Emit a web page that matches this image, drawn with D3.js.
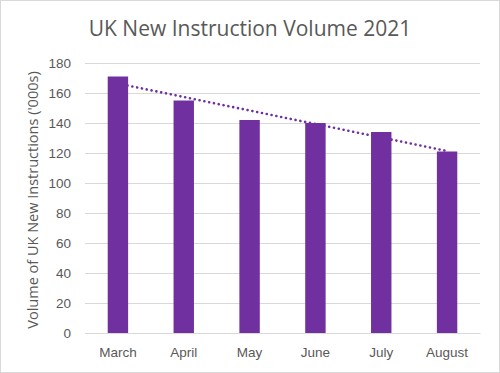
<!DOCTYPE html>
<html>
<head>
<meta charset="utf-8">
<script src="https://cdn.jsdelivr.net/npm/d3@7"></script>
<style>
  body { margin: 0; background: #fff; }
  svg { display: block; font-family: "Open Sans", "Liberation Sans", sans-serif; }
</style>
</head>
<body>
<div id="chart"></div>
<script>
const months = ["March", "April", "May", "June", "July", "August"];
const volumes = [171, 155, 142, 140, 134, 121];
const yTicks = [0, 20, 40, 60, 80, 100, 120, 140, 160, 180];

const W = 500, H = 373;
const margin = { top: 63, right: 20, bottom: 40, left: 85 };
const purple = "#7030A0", textCol = "#595959", gridCol = "#d9d9d9";

const svg = d3.select("#chart").append("svg")
    .attr("width", W)
    .attr("height", H);

svg.append("rect")
    .attr("x", 0.5).attr("y", 0.5)
    .attr("width", W - 1).attr("height", H - 1)
    .attr("fill", "#fff")
    .attr("stroke", gridCol);

const x = d3.scaleBand()
    .domain(months)
    .range([margin.left, W - margin.right]);

const y = d3.scaleLinear()
    .domain([0, 180])
    .range([H - margin.bottom, margin.top]);

// gridlines + tick labels
const yAxis = svg.append("g")
    .attr("transform", `translate(${margin.left},0)`)
    .call(d3.axisLeft(y).tickValues(yTicks).tickSize(-(W - margin.left - margin.right)).tickPadding(14));
yAxis.select(".domain").remove();
yAxis.selectAll(".tick line").attr("stroke", gridCol);
yAxis.selectAll(".tick text")
    .attr("fill", textCol)
    .style("font-size", "13.5px");

// x labels
const xAxis = svg.append("g")
    .attr("transform", `translate(0,${H - margin.bottom})`)
    .call(d3.axisBottom(x).tickSize(0).tickPadding(14));
xAxis.select(".domain").attr("stroke", gridCol);
xAxis.selectAll(".tick text")
    .attr("fill", textCol)
    .style("font-size", "13.5px");

// linear trendline (least squares)
const n = volumes.length;
const xs = d3.range(1, n + 1);
const mx = d3.mean(xs), my = d3.mean(volumes);
const slope = d3.sum(xs, (v, i) => (v - mx) * (volumes[i] - my)) / d3.sum(xs, v => (v - mx) ** 2);
const icpt = my - slope * mx;
const trend = months.map((m, i) => [x(m) + x.bandwidth() / 2, y(icpt + slope * (i + 1))]);

svg.append("path")
    .attr("d", d3.line()(trend))
    .attr("fill", "none")
    .attr("stroke", purple)
    .attr("stroke-width", 2.6)
    .attr("stroke-linecap", "round")
    .attr("stroke-dasharray", "0.1 4.8");

// bars
const barW = x.bandwidth() * 0.31;
svg.append("g").selectAll("rect")
    .data(volumes)
    .join("rect")
    .attr("x", (d, i) => x(months[i]) + (x.bandwidth() - barW) / 2)
    .attr("y", d => y(d))
    .attr("width", barW)
    .attr("height", d => y(0) - y(d))
    .attr("fill", purple);

// title
svg.append("text")
    .attr("x", 250).attr("y", 36)
    .attr("text-anchor", "middle")
    .attr("fill", textCol)
    .style("font-size", "21px")
    .text("UK New Instruction Volume 2021");

// y axis title
svg.append("text")
    .attr("transform", `translate(38,${(margin.top + H - margin.bottom) / 2 + 2}) rotate(-90)`)
    .attr("text-anchor", "middle")
    .attr("fill", textCol)
    .style("font-size", "14.5px")
    .text("Volume of UK New Instructions ('000s)");
</script>
</body>
</html>
